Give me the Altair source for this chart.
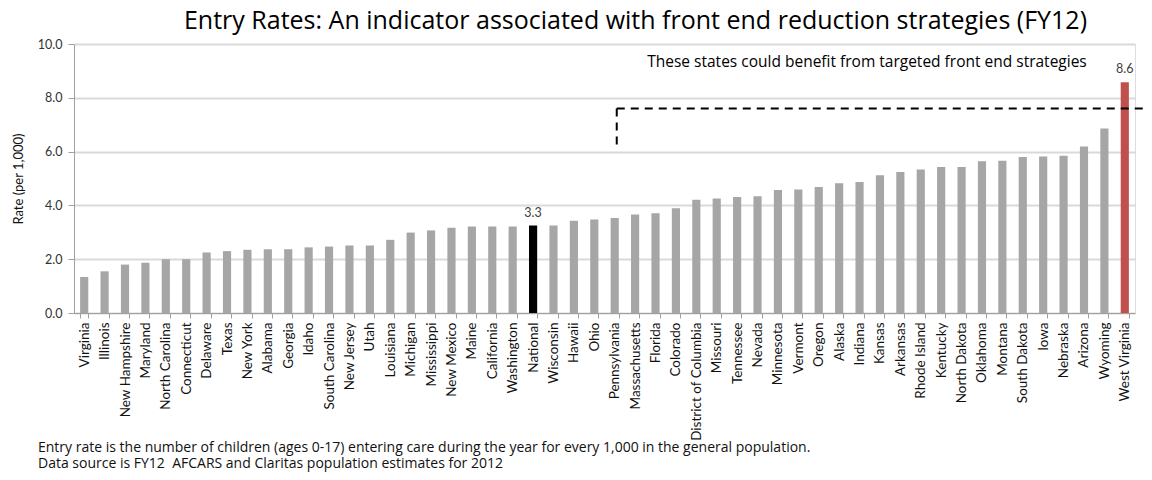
import altair as alt
import pandas as pd

states = ["Virginia", "Illinois", "New Hampshire", "Maryland", "North Carolina", "Connecticut",
          "Delaware", "Texas", "New York", "Alabama", "Georgia", "Idaho", "South Carolina",
          "New Jersey", "Utah", "Louisiana", "Michigan", "Mississippi", "New Mexico", "Maine",
          "California", "Washington", "National", "Wisconsin", "Hawaii", "Ohio", "Pennsylvania",
          "Massachusetts", "Florida", "Colorado", "District of Columbia", "Missouri", "Tennessee",
          "Nevada", "Minnesota", "Vermont", "Oregon", "Alaska", "Indiana", "Kansas", "Arkansas",
          "Rhode Island", "Kentucky", "North Dakota", "Oklahoma", "Montana", "South Dakota",
          "Iowa", "Nebraska", "Arizona", "Wyoming", "West Virginia"]
rates = [1.34, 1.55, 1.80, 1.87, 2.00, 2.00,
         2.25, 2.30, 2.35, 2.37, 2.37, 2.44, 2.47,
         2.51, 2.51, 2.72, 2.99, 3.07, 3.17, 3.22,
         3.22, 3.22, 3.25, 3.25, 3.43, 3.48, 3.53,
         3.66, 3.71, 3.89, 4.21, 4.26, 4.31,
         4.34, 4.57, 4.59, 4.68, 4.82, 4.87, 5.12, 5.24,
         5.33, 5.43, 5.43, 5.64, 5.66, 5.80,
         5.82, 5.85, 6.19, 6.86, 8.58]
value_labels = {"National": "3.3", "West Virginia": "8.6"}
bar_colors = {"National": "#000000", "West Virginia": "#c0504d"}
default_color = "#a6a6a6"

title_text = "Entry Rates: An indicator associated with front end reduction strategies (FY12)"
annotation_text = "These states could benefit from targeted front end strategies"
footnote_1 = "Entry rate is the number of children (ages 0-17) entering care during the year for every 1,000 in the general population."
footnote_2 = "Data source is FY12\u00a0 AFCARS and Claritas population estimates for 2012"
y_ticks = [0, 2, 4, 6, 8, 10]
box_top = 7.6
box_bottom = 6.05

FONT = "Lato"
WIDE = "Open Sans"

df = pd.DataFrame({
    "state": states,
    "rate": rates,
    "color": [bar_colors.get(s, default_color) for s in states],
    "label": [value_labels.get(s, "") for s in states],
})

W, H = 1061, 269

x_enc = alt.X("state:N", sort=states, title=None,
              scale=alt.Scale(paddingInner=0.6, paddingOuter=0.3),
              axis=alt.Axis(labelAngle=-90, labelAlign="right", labelBaseline="middle",
                            labelFont=FONT, labelFontSize=13.5, labelColor="#111111",
                            labelPadding=4, tickBand="extent", tickSize=5, tickColor="#a0a0a0",
                            domainColor="#a0a0a0", grid=False, labelOverlap=False))
y_enc = alt.Y("rate:Q", title="Rate (per 1,000)",
              scale=alt.Scale(domain=[0, 10], nice=False),
              axis=alt.Axis(values=y_ticks, format=".1f", labelFont=FONT, labelFontSize=12.5,
                            labelColor="#333333", titleFont=FONT, titleFontSize=13,
                            titleFontWeight="normal", titleColor="#111111", titlePadding=12,
                            tickSize=6, tickColor="#a0a0a0", domainColor="#a0a0a0",
                            gridColor="#d9d9d9", gridWidth=2, labelPadding=6))

base = alt.Chart(df)

bars = base.mark_bar().encode(
    x=x_enc, y=y_enc,
    color=alt.Color("color:N", scale=None, legend=None),
)

labels = base.transform_filter(alt.datum.label != "").mark_text(
    dy=-13, font=FONT, fontSize=12.5, color="#404040"
).encode(x=alt.X("state:N", sort=states), y="rate:Q", text="label:N")

annot = alt.Chart(pd.DataFrame({"t": [annotation_text]})).mark_text(
    font=WIDE, fontSize=15.5, color="#000000", align="center"
).encode(x=alt.value(793), y=alt.YDatum(9.33), text="t:N")

dash_h = alt.Chart(pd.DataFrame({"k": [0]})).mark_rule(
    strokeDash=[8, 6], strokeWidth=2, color="#000000"
).encode(x=alt.XDatum("Pennsylvania", bandPosition=0.75), x2=alt.value(W + 20),
         y=alt.YDatum(box_top))

dash_v = alt.Chart(pd.DataFrame({"k": [0]})).mark_rule(
    strokeDash=[8, 6], strokeWidth=2, color="#000000"
).encode(x=alt.XDatum("Pennsylvania", bandPosition=0.75),
         y=alt.YDatum(box_top), y2=alt.Y2Datum(box_bottom))

foot1 = alt.Chart(pd.DataFrame({"t": [footnote_1]})).mark_text(
    font=WIDE, fontSize=14, color="#111111", align="left", baseline="middle"
).encode(x=alt.value(-36), y=alt.YDatum(-5.0), text="t:N")

foot2 = alt.Chart(pd.DataFrame({"t": [footnote_2]})).mark_text(
    font=WIDE, fontSize=14, color="#111111", align="left", baseline="middle"
).encode(x=alt.value(-36), y=alt.YDatum(-5.62), text="t:N")

chart = alt.layer(bars, labels, annot, dash_h, dash_v, foot1, foot2).properties(
    width=W, height=H,
    title=alt.TitleParams(title_text, font=WIDE, fontSize=25, fontWeight="normal",
                          color="#000000", anchor="middle", dx=31, offset=4),
    autosize=alt.AutoSizeParams(type="none"),
    padding={"left": 66, "top": 36, "right": 9, "bottom": 159},
).configure_view(stroke=None).configure(background="white")

chart.save("out.html", embed_options={"renderer": "svg", "actions": False})
